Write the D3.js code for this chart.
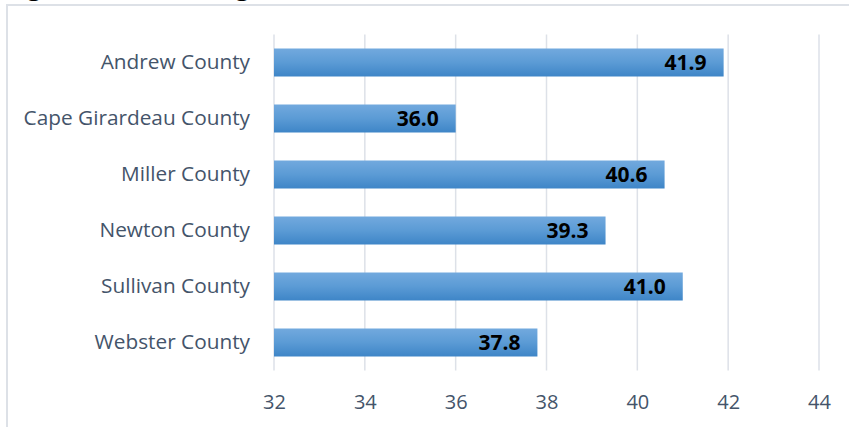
<!DOCTYPE html>
<html>
<head>
<meta charset="utf-8">
<script src="https://cdn.jsdelivr.net/npm/d3@7"></script>
<style>
  html, body { margin: 0; padding: 0; background: #fff; }
  svg { display: block; }
  text { font-family: "Open Sans", Carlito, Calibri, Lato, sans-serif; }
</style>
</head>
<body>
<svg id="chart" width="849" height="427"></svg>
<script>
const categories = ["Andrew County", "Cape Girardeau County", "Miller County", "Newton County", "Sullivan County", "Webster County"];
const values = [41.9, 36.0, 40.6, 39.3, 41.0, 37.8];
const tickValues = [32, 34, 36, 38, 40, 42, 44];
const titleText = "Figure 2: Median Age";

const W = 849, H = 427;
const margin = { left: 274, right: 30, top: 34.5, bottom: 56.5 };
const svg = d3.select("#chart");
const FONT = "'Open Sans', Carlito, Calibri, Lato, sans-serif";

// gradient
const defs = svg.append("defs");
const grad = defs.append("linearGradient").attr("id", "barGrad")
  .attr("x1", 0).attr("y1", 0).attr("x2", 0).attr("y2", 1);
grad.append("stop").attr("offset", "0%").attr("stop-color", "#72a9de");
grad.append("stop").attr("offset", "50%").attr("stop-color", "#5b9bd5");
grad.append("stop").attr("offset", "100%").attr("stop-color", "#3e85c7");

// title (cut off at top edge, as in the reference)
svg.append("text")
  .attr("x", 6).attr("y", -5)
  .attr("font-weight", "bold").attr("font-size", 25).attr("fill", "#000")
  .attr("font-family", FONT)
  .text(titleText);

// frame
svg.append("rect")
  .attr("x", 7).attr("y", 5).attr("width", 860).attr("height", 440)
  .attr("fill", "none").attr("stroke", "#dde1e7").attr("stroke-width", 2);

const x = d3.scaleLinear().domain([32, 44]).range([margin.left, 819]);
const y = d3.scaleBand().domain(categories).range([margin.top, H - margin.bottom]).paddingInner(0.5).paddingOuter(0.25);

// gridlines
svg.append("g").selectAll("line").data(tickValues).join("line")
  .attr("x1", d => x(d)).attr("x2", d => x(d))
  .attr("y1", margin.top).attr("y2", H - margin.bottom)
  .attr("stroke", "#dde1e8").attr("stroke-width", 1.5);

// x axis labels
const xAxis = d3.axisBottom(x).tickValues(tickValues).tickSize(0).tickPadding(0).tickFormat(d3.format("d"));
const gx = svg.append("g").attr("transform", `translate(0,${H - margin.bottom})`).call(xAxis);
gx.select(".domain").remove();
gx.selectAll("text").attr("font-size", 20).attr("fill", "#44546a")
  .attr("font-family", FONT)
  .attr("dy", null).attr("y", 38);

// y axis labels
const yAxis = d3.axisLeft(y).tickSize(0).tickPadding(24);
const gy = svg.append("g").attr("transform", `translate(${margin.left},0)`).call(yAxis);
gy.select(".domain").remove();
gy.selectAll("text").attr("font-size", 20.8).attr("fill", "#44546a")
  .attr("font-family", FONT);

// bars
const data = categories.map((c, i) => ({ c, v: values[i] }));
svg.append("g").selectAll("rect").data(data).join("rect")
  .attr("x", x(32)).attr("y", d => y(d.c))
  .attr("width", d => x(d.v) - x(32)).attr("height", y.bandwidth())
  .attr("fill", "url(#barGrad)");

// value labels
svg.append("g").selectAll("text").data(data).join("text")
  .attr("x", d => x(d.v) - 17).attr("y", d => y(d.c) + y.bandwidth() / 2)
  .attr("dy", "0.36em").attr("text-anchor", "end")
  .attr("font-weight", "bold").attr("font-size", 21).attr("fill", "#000")
  .attr("font-family", FONT)
  .text(d => d.v.toFixed(1));
</script>
</body>
</html>
